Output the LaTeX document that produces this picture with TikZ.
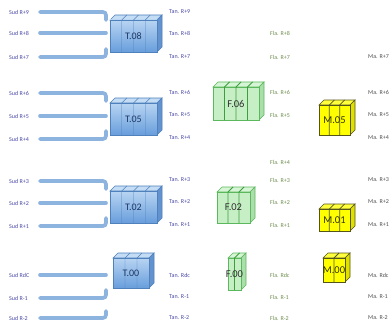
\documentclass[tikz,border=0pt]{standalone}
\usepackage{fontspec}
\setmainfont{Carlito}
\usetikzlibrary{calc}

\definecolor{sudcol}{HTML}{4A4AA8}
\definecolor{flacol}{HTML}{6E8F4E}
\definecolor{macol}{HTML}{505050}
\definecolor{pipecol}{HTML}{8DB3DF}
\definecolor{blueedge}{HTML}{4F81BD}

\tikzset{
  x=1pt, y=-1pt,
  lbl/.style={anchor=west, inner sep=0pt, font=\fontsize{6}{7}\selectfont},
  sudlbl/.style={lbl, text=sudcol},
  tanlbl/.style={lbl, text=sudcol},
  flalbl/.style={lbl, text=flacol},
  malbl/.style={lbl, text=macol},
  pipe/.style={draw=pipecol, line width=3.6pt, line cap=round, rounded corners=3pt},
  % blue racks
  bluetop/.style={draw=blueedge, fill={rgb,255:red,196;green,220;blue,244}, line width=0.6pt},
  blueside/.style={draw=blueedge, fill={rgb,255:red,100;green,146;blue,206}, line width=0.6pt},
  bluefront/.style={draw=blueedge, top color={rgb,255:red,184;green,212;blue,242}, bottom color={rgb,255:red,104;green,158;blue,220}, line width=0.6pt},
  bluediv/.style={draw=blueedge, line width=0.4pt},
  bluetext/.style={font=\fontsize{10}{12}\selectfont, text={rgb,255:red,31;green,56;blue,100}},
  % green racks
  greentop/.style={draw={rgb,255:red,92;green,184;blue,92}, fill={rgb,255:red,214;green,245;blue,214}, line width=0.6pt},
  greenside/.style={draw={rgb,255:red,92;green,184;blue,92}, fill={rgb,255:red,170;green,222;blue,170}, line width=0.6pt},
  greenfront/.style={draw={rgb,255:red,92;green,184;blue,92}, fill={rgb,255:red,198;green,239;blue,198}, line width=0.6pt},
  greendiv/.style={draw={rgb,255:red,62;green,158;blue,62}, line width=0.8pt},
  greentext/.style={font=\fontsize{10.5}{12}\selectfont, text={rgb,255:red,51;green,51;blue,51}},
  % yellow racks
  yellowtop/.style={draw={rgb,255:red,85;green,85;blue,26}, fill={rgb,255:red,255;green,255;blue,60}, line width=0.6pt},
  yellowside/.style={draw={rgb,255:red,85;green,85;blue,26}, fill={rgb,255:red,224;green,224;blue,0}, line width=0.6pt},
  yellowfront/.style={draw={rgb,255:red,85;green,85;blue,26}, fill={rgb,255:red,255;green,255;blue,0}, line width=0.6pt},
  yellowdiv/.style={draw={rgb,255:red,85;green,85;blue,34}, line width=0.8pt},
  yellowtext/.style={font=\fontsize{10.5}{12}\selectfont, text={rgb,255:red,51;green,51;blue,0}},
}

% depth of the racks
\def\dd{5}
% \rackbox{name}{left}{top of front}{width}{height}{columns}{colour family}{label}
\newcommand\rackbox[8]{%
  \draw[#7top] (#2,#3) -- ++(\dd,-\dd) -- ++(#4,0) -- ++(-\dd,\dd) -- cycle;
  \draw[#7side] ({#2+#4},#3) -- ++(\dd,-\dd) -- ++(0,#5) -- ++(-\dd,\dd) -- cycle;
  \draw[#7front] (#2,#3) rectangle ++(#4,#5);
  \pgfmathtruncatemacro\lastcol{#6-1}%
  \foreach \k in {1,...,\lastcol}{%
    \draw[#7div] ({#2+\k*#4/#6},{#3+#5}) -- ({#2+\k*#4/#6},#3) -- ++(\dd,-\dd);
  }
  \node[#7text, inner sep=0pt] (#1) at ({#2+#4/2},{#3+#5/2}) {#8};
}

\begin{document}
\begin{tikzpicture}
\useasboundingbox[fill=white] (0,0) rectangle (390,326);

% ---- supply pipes ----
\foreach \ya/\yb/\yc in {12/33/57, 93/116/139, 181/203/226}{
  \draw[pipe] (40,\ya) -- (106,\ya) -- (106,\ya+8);
  \draw[pipe] (40,\yb) -- (106,\yb);
  \draw[pipe] (40,\yc) -- (106,\yc) -- (106,\yc-8);
}
\draw[pipe] (40,275) -- (106,275);
\draw[pipe] (40,298) -- (106,298) -- (106,290);
\draw[pipe] (40,318) -- (106,318) -- (106,311);

% ---- racks ----
\rackbox{t08}{110}{20}{47}{32}{4}{blue}{T.08}
\rackbox{t05}{110}{103}{47}{32}{4}{blue}{T.05}
\rackbox{t02}{110}{191}{47}{32}{4}{blue}{T.02}
\rackbox{t00}{113}{258}{36}{30}{3}{blue}{T.00}

\rackbox{f06}{213}{87}{46}{33}{4}{green}{F.06}
\rackbox{f02}{217}{192}{33}{31}{3}{green}{F.02}
\rackbox{f00}{228}{258}{13}{32}{2}{green}{F.00}

\rackbox{m05}{319}{105}{31}{30}{3}{yellow}{M.05}
\rackbox{m01}{319}{209}{31}{22}{3}{yellow}{M.01}
\rackbox{m00}{323}{258}{22}{24}{2}{yellow}{M.00}

% ---- level labels ----
\foreach \n/\t/\y in {s9/R+9/12, s8/R+8/33, s7/R+7/57, s6/R+6/93, s5/R+5/116, s4/R+4/139,
                      s3/R+3/181, s2/R+2/203, s1/R+1/226, s0/RdC/275, sm1/R-1/298, sm2/R-2/318}
  \node[sudlbl] (\n) at (9,\y) {Sud \t};

\foreach \n/\t/\y in {ta9/R+9/12, ta8/R+8/33, ta7/R+7/57, ta6/R+6/92, ta5/R+5/115, ta4/R+4/138,
                      ta3/R+3/180, ta2/R+2/202, ta1/R+1/225, ta0/Rdc/275, tam1/R-1/297, tam2/R-2/318}
  \node[tanlbl] (\n) at (169,\y) {Tan. \t};

\foreach \n/\t/\y in {fl8/R+8/33, fl7/R+7/57, fl6/R+6/92, fl5/R+5/115, fl4/R+4/162,
                      fl3/R+3/180, fl2/R+2/202, fl1/R+1/225, fl0/Rdc/275, flm1/R-1/297, flm2/R-2/318}
  \node[flalbl] (\n) at (270,\y) {Fla. \t};

\foreach \n/\t/\y in {ma7/R+7/57, ma6/R+6/92, ma5/R+5/115, ma4/R+4/138,
                      ma3/R+3/180, ma2/R+2/202, ma1/R+1/225, ma0/Rdc/275, mam1/R-1/297, mam2/R-2/318}
  \node[malbl] (\n) at (368,\y) {Ma. \t};
\end{tikzpicture}
\end{document}
